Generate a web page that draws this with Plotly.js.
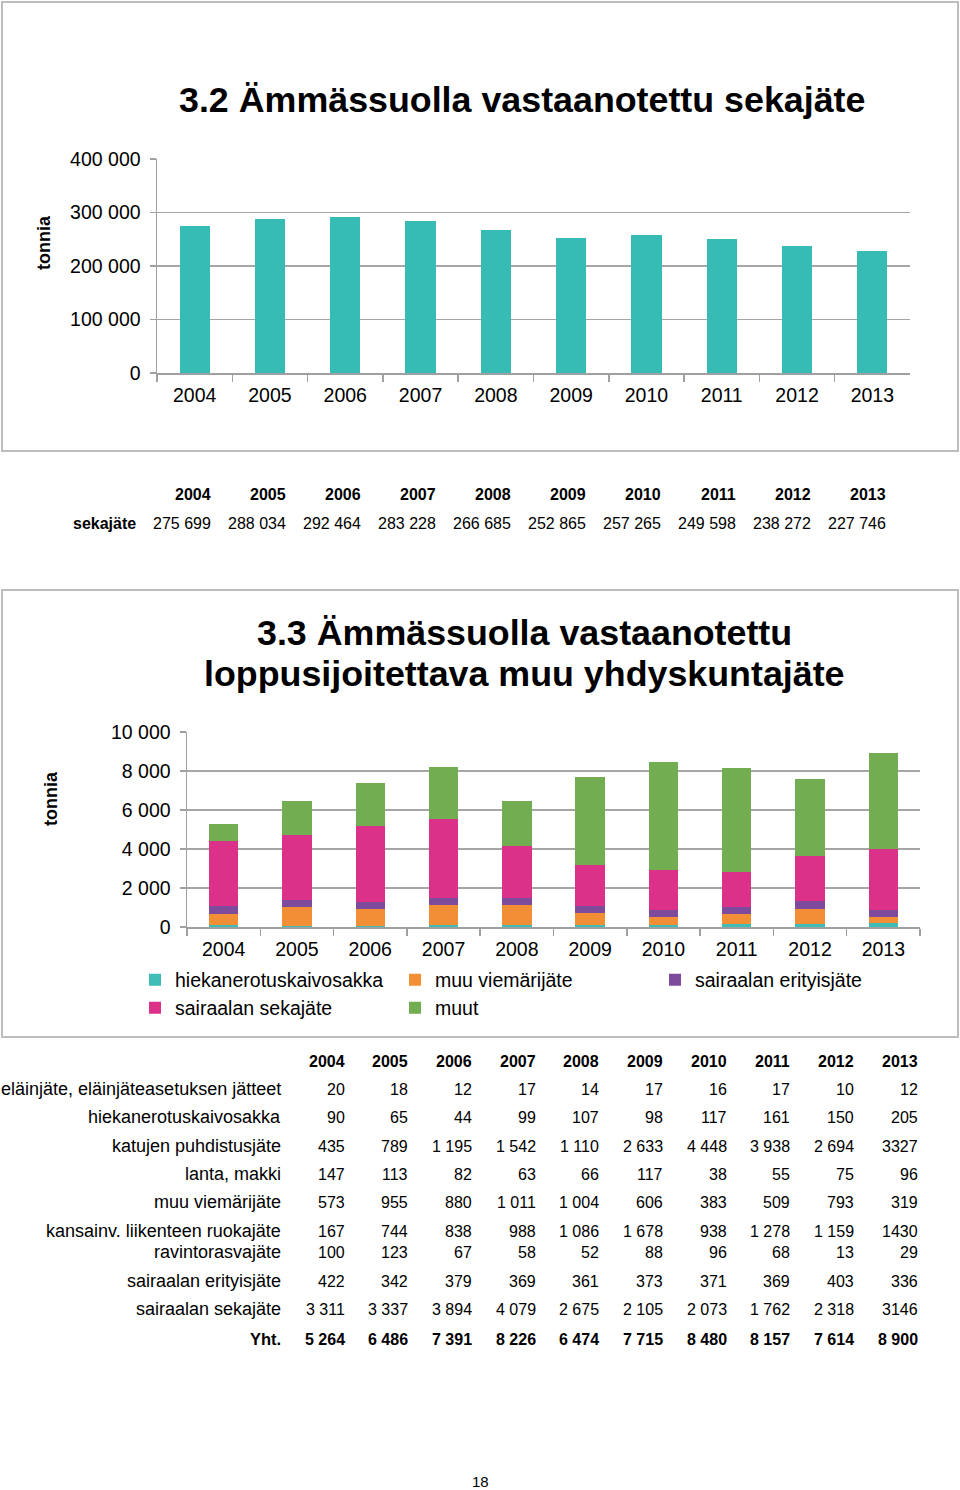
<!DOCTYPE html>
<html><head><meta charset="utf-8">
<script src="https://cdn.plot.ly/plotly-3.0.1.min.js"></script>
<style>html,body{margin:0;padding:0;background:#fff}</style>
</head><body>
<div id="chart" style="width:960px;height:1490px"></div>
<script>
// ---------- data ----------
const years = ['2004','2005','2006','2007','2008','2009','2010','2011','2012','2013'];
const sekajate = ['275 699','288 034','292 464','283 228','266 685','252 865','257 265','249 598','238 272','227 746'];

const rowLabels = ['eläinjäte, eläinjäteasetuksen jätteet','hiekanerotuskaivosakka','katujen puhdistusjäte','lanta, makki','muu viemärijäte','kansainv. liikenteen ruokajäte','ravintorasvajäte','sairaalan erityisjäte','sairaalan sekajäte','Yht.'];
const elainjate = ['20','18','12','17','14','17','16','17','10','12'];
const hieka = ['90','65','44','99','107','98','117','161','150','205'];
const katujen = ['435','789','1 195','1 542','1 110','2 633','4 448','3 938','2 694','3327'];
const lanta = ['147','113','82','63','66','117','38','55','75','96'];
const muuViem = ['573','955','880','1 011','1 004','606','383','509','793','319'];
const ruokajate = ['167','744','838','988','1 086','1 678','938','1 278','1 159','1430'];
const rasvajate = ['100','123','67','58','52','88','96','68','13','29'];
const sairErit = ['422','342','379','369','361','373','371','369','403','336'];
const sairSeka = ['3 311','3 337','3 894','4 079','2 675','2 105','2 073','1 762','2 318','3146'];
const yht = ['5 264','6 486','7 391','8 226','6 474','7 715','8 480','8 157','7 614','8 900'];
const muut = [868, 1787, 2194, 2668, 2327, 4533, 5536, 5356, 3950, 4894];

const seriesNames = ['hiekanerotuskaivosakka','muu viemärijäte','sairaalan erityisjäte','sairaalan sekajäte','muut'];
const seriesColors = ['#3DBDB5','#F28E36','#7E4A9B','#DC3189','#73AD52'];

// ---------- helpers ----------
const W = 960, H = 1490;
const px = x => x / W;
const py = y => 1 - y / H;
const num = s => Number(String(s).replace(/\s/g, ''));
const FONT = 'Liberation Sans, Arial, sans-serif';

// ---------- traces ----------
const traces = [];
traces.push({
  type: 'bar', x: years, y: sekajate.map(num), xaxis: 'x', yaxis: 'y',
  marker: {color: '#36BCB5'}, showlegend: false, hoverinfo: 'x+y'
});
const stackVals = [hieka.map(num), muuViem.map(num), sairErit.map(num), sairSeka.map(num), muut];
const legendIds = ['legend', 'legend2', 'legend3', 'legend4', 'legend5'];
stackVals.forEach((vals, i) => {
  traces.push({
    type: 'bar', x: years, y: vals, name: seriesNames[i], xaxis: 'x2', yaxis: 'y2',
    marker: {color: seriesColors[i]}, legend: legendIds[i], showlegend: true
  });
});

// ---------- annotations ----------
const ann = [];
function txt(x, y, text, opts) {
  ann.push(Object.assign({
    xref: 'paper', yref: 'paper', x: px(x), y: py(y), text: text, showarrow: false,
    xanchor: 'center', yanchor: 'middle',
    font: {family: FONT, size: 16, color: '#000'}
  }, opts || {}));
}
// chart titles
txt(522, 100, '<b>3.2 Ämmässuolla vastaanotettu sekajäte</b>', {font: {family: FONT, size: 35.8, color: '#000'}});
txt(524, 633, '<b>3.3 Ämmässuolla vastaanotettu</b>', {font: {family: FONT, size: 35.8, color: '#000'}});
txt(524, 674, '<b>loppusijoitettava muu yhdyskuntajäte</b>', {font: {family: FONT, size: 35.8, color: '#000'}});
// y titles
txt(44, 243, '<b>tonnia</b>', {textangle: -90, font: {family: FONT, size: 18, color: '#000'}});
txt(51, 799, '<b>tonnia</b>', {textangle: -90, font: {family: FONT, size: 18, color: '#000'}});

// table 1
const t1cols = [213, 288, 363, 438, 513, 588, 663, 738, 813, 888];
years.forEach((yr, i) => {
  txt(t1cols[i], 494, '<b>' + yr + '</b>', {xanchor: 'right'});
  txt(t1cols[i], 523, sekajate[i], {xanchor: 'right'});
});
txt(138, 523, '<b>sekajäte</b>', {xanchor: 'right'});

// table 2
const t2cols = [347, 410, 474, 538, 601, 665, 729, 792, 856, 920];
const t2rowsY = [1089, 1117, 1146, 1174, 1202, 1231, 1252, 1281, 1309, 1339];
const t2rows = [elainjate, hieka, katujen, lanta, muuViem, ruokajate, rasvajate, sairErit, sairSeka, yht];
years.forEach((yr, i) => txt(t2cols[i], 1061, '<b>' + yr + '</b>', {xanchor: 'right'}));
t2rows.forEach((row, r) => {
  const bold = r === t2rows.length - 1;
  txt(283, t2rowsY[r], bold ? '<b>' + rowLabels[r] + '</b>' : rowLabels[r],
      {xanchor: 'right', font: {family: FONT, size: bold ? 16.5 : 18, color: '#000'}});
  row.forEach((v, i) => txt(t2cols[i], t2rowsY[r], bold ? '<b>' + v + '</b>' : v, {xanchor: 'right'}));
});
// page number
txt(480, 1481, '18', {font: {family: FONT, size: 15, color: '#000'}});

// ---------- shapes (chart frames) ----------
const frame = (x0, y0, x1, y1) => ({
  type: 'rect', xref: 'paper', yref: 'paper', x0: px(x0), x1: px(x1), y0: py(y1), y1: py(y0),
  line: {color: '#BDBDBD', width: 2}, fillcolor: 'rgba(0,0,0,0)', layer: 'below'
});

const axisCommonX = {
  type: 'category', showline: true, linecolor: '#A0A0A0', linewidth: 1.5,
  ticks: 'outside', tickson: 'boundaries', ticklen: 7, tickcolor: '#A0A0A0', tickwidth: 1.5,
  tickfont: {family: FONT, size: 19.5, color: '#000'}, showgrid: false, ticklabelstandoff: 4,
  fixedrange: true
};
const axisCommonY = {
  showline: true, linecolor: '#A0A0A0', linewidth: 1.5,
  ticks: 'outside', ticklen: 6, tickcolor: '#A0A0A0', tickwidth: 1.5,
  gridcolor: '#A6A6A6', gridwidth: 1.5, zeroline: false,
  tickfont: {family: FONT, size: 19.5, color: '#000'}, tickformat: ',d',
  ticklabelstandoff: 5, fixedrange: true
};

// legend positions (left of legend box, row centre)
const legendPos = [[135, 980], [395, 980], [655, 980], [135, 1008], [395, 1008]];
const legendBase = (x, y) => ({
  orientation: 'h', x: px(x), y: py(y), xanchor: 'left', yanchor: 'middle',
  font: {family: FONT, size: 19.5, color: '#000'}, bgcolor: 'rgba(0,0,0,0)', borderwidth: 0
});

const layout = {
  width: W, height: H,
  margin: {l: 0, r: 0, t: 0, b: 0},
  paper_bgcolor: '#fff', plot_bgcolor: 'rgba(0,0,0,0)',
  separators: ', ',
  barmode: 'stack',
  bargap: 0.6,
  font: {family: FONT, color: '#000'},
  xaxis: Object.assign({}, axisCommonX, {domain: [px(157), px(910)], anchor: 'y'}),
  yaxis: Object.assign({}, axisCommonY, {domain: [py(373), py(159)], range: [0, 400000], dtick: 100000, anchor: 'x'}),
  xaxis2: Object.assign({}, axisCommonX, {domain: [px(187), px(920)], anchor: 'y2'}),
  yaxis2: Object.assign({}, axisCommonY, {domain: [py(927), py(732)], range: [0, 10000], dtick: 2000, anchor: 'x2'}),
  showlegend: true,
  annotations: ann,
  shapes: [frame(2, 2, 958, 451), frame(2, 590, 958, 1037)]
};
legendIds.forEach((id, i) => { layout[id] = legendBase(legendPos[i][0], legendPos[i][1]); });

Plotly.newPlot('chart', traces, layout, {displayModeBar: false, staticPlot: true});
</script>
</body></html>
